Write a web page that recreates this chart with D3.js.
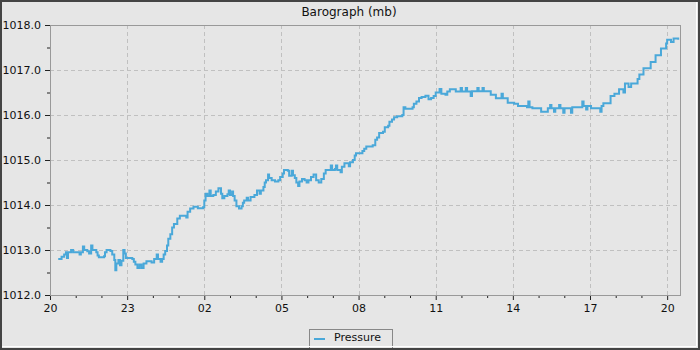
<!DOCTYPE html>
<html lang="en">
<head>
  <meta charset="UTF-8" />
  <title>Barograph (mb)</title>
  <script src="https://d3js.org/d3.v7.min.js"></script>
  <style>
    html, body {
      margin: 0;
      padding: 0;
      background: #e6e6e6;
      overflow: hidden;
    }
    svg {
      display: block;
      font-family: 'DejaVu Sans', sans-serif;
    }
  </style>
</head>
<body>
  <svg width="700" height="350"></svg>

  <script>
    // hours since 20:00 of the first day
    const hours = [
      0.32, 0.45, 0.55, 0.62, 0.66, 0.70, 0.82, 0.90, 1.15, 1.20, 1.28, 1.33, 1.45, 1.52, 1.60, 1.65,
      1.80, 1.85, 1.90, 2.10, 2.14, 2.20, 2.35, 2.42, 2.50, 2.54, 2.58, 2.66, 2.72, 2.78, 2.85, 2.90,
      2.95, 3.20, 3.26, 3.32, 3.40, 3.48, 3.56, 3.64, 3.75, 3.95, 4.05, 4.15, 4.20, 4.30, 4.36, 4.42,
      4.48, 4.55, 4.60, 4.68, 4.75, 4.82, 4.95, 5.05, 5.30, 5.35, 5.45, 5.58, 5.75, 5.95, 6.00, 6.05,
      6.12, 6.20, 6.25, 6.35, 6.45, 6.55, 6.65, 6.70, 6.78, 6.90, 6.95, 7.00, 7.08, 7.12, 7.18, 7.25,
      7.35, 7.45, 7.50, 7.55, 7.65, 7.70, 7.80, 7.95, 8.05, 8.15, 8.20, 8.30, 8.35, 8.40, 8.48, 8.52,
      8.62, 8.75, 8.88, 8.95, 9.05, 9.10, 9.25, 9.30, 9.40, 9.45, 9.52, 9.58, 9.65, 9.70, 9.80, 9.90,
      9.98, 10.05, 10.15, 10.25, 10.35, 10.45, 10.55, 10.65, 10.72, 10.92, 10.97, 11.08, 11.12, 11.17,
      11.30, 11.35, 11.45, 11.62, 11.67, 11.78, 11.85, 11.90, 12.15, 12.22, 12.30, 12.55, 12.65, 12.72,
      12.80, 12.95, 13.02, 13.15, 13.20, 13.30, 13.38, 13.50, 13.70, 13.75, 13.82, 14.10, 14.15, 14.25,
      14.35, 14.45, 14.60, 14.72, 14.82, 14.92, 15.00, 15.15, 15.22, 15.38, 15.45, 15.55, 15.78, 15.97,
      16.02, 16.17, 16.22, 16.36, 16.41, 16.62, 16.67, 16.82, 16.87, 17.14, 17.34, 17.56, 17.61, 17.80,
      18.05, 18.20, 18.40, 18.55, 18.60, 18.65, 18.76, 19.10, 19.36, 19.45, 19.50, 19.60, 19.65, 19.80,
      19.85, 19.96, 20.01, 20.26, 20.31, 20.70, 20.75, 20.85, 20.90, 21.04, 21.40, 21.45, 21.52, 21.80,
      21.95, 22.13, 22.30, 22.36, 22.50, 22.60, 22.85, 22.92, 23.08, 23.36, 23.55, 23.76, 23.96, 24.00,
      24.15, 24.25, 24.43
    ];

    const pressure = [
      1012.8, 1012.85, 1012.9, 1012.95, 1012.82, 1012.95, 1013.0, 1012.95, 1012.9, 1012.95, 1013.08, 1013.0, 1012.97, 1012.92, 1013.1, 1013.0,
      1012.95, 1012.88, 1012.84, 1012.86, 1012.95, 1013.0, 1012.98, 1012.9, 1012.78, 1012.55, 1012.7, 1012.78, 1012.66, 1012.76, 1013.0, 1012.92,
      1012.82, 1012.8, 1012.74, 1012.68, 1012.6, 1012.68, 1012.6, 1012.7, 1012.75, 1012.72, 1012.8, 1012.9, 1012.8, 1012.74, 1012.8, 1012.9,
      1012.98, 1013.1, 1013.25, 1013.35, 1013.5, 1013.58, 1013.7, 1013.76, 1013.72, 1013.85, 1013.92, 1013.96, 1013.93, 1013.95, 1014.1, 1014.25,
      1014.2, 1014.32, 1014.2, 1014.22, 1014.3, 1014.37, 1014.25, 1014.15, 1014.2, 1014.24, 1014.32, 1014.22, 1014.3, 1014.2, 1014.1, 1013.97,
      1013.92, 1013.97, 1014.05, 1014.1, 1014.16, 1014.1, 1014.18, 1014.22, 1014.32, 1014.25, 1014.32, 1014.4, 1014.5, 1014.55, 1014.68, 1014.6,
      1014.55, 1014.52, 1014.55, 1014.62, 1014.7, 1014.78, 1014.76, 1014.65, 1014.76, 1014.66, 1014.6, 1014.5, 1014.42, 1014.52, 1014.58, 1014.55,
      1014.5, 1014.55, 1014.62, 1014.68, 1014.55, 1014.5, 1014.58, 1014.7, 1014.78, 1014.88, 1014.78, 1014.8, 1014.88, 1014.78,
      1014.73, 1014.85, 1014.93, 1014.86, 1014.95, 1015.0, 1015.1, 1015.15, 1015.2, 1015.25, 1015.3, 1015.33, 1015.45, 1015.5,
      1015.6, 1015.63, 1015.73, 1015.76, 1015.85, 1015.9, 1015.95, 1015.97, 1016.0, 1016.17, 1016.14, 1016.17, 1016.25, 1016.3,
      1016.38, 1016.4, 1016.43, 1016.35, 1016.38, 1016.42, 1016.5, 1016.58, 1016.47, 1016.45, 1016.52, 1016.57, 1016.52, 1016.6,
      1016.52, 1016.6, 1016.52, 1016.42, 1016.53, 1016.6, 1016.53, 1016.6, 1016.53, 1016.45, 1016.37, 1016.47, 1016.37, 1016.27,
      1016.25, 1016.2, 1016.2, 1016.17, 1016.3, 1016.17, 1016.15, 1016.07, 1016.15, 1016.22, 1016.15, 1016.07, 1016.15, 1016.22,
      1016.15, 1016.05, 1016.15, 1016.05, 1016.17, 1016.3, 1016.2, 1016.12, 1016.2, 1016.15, 1016.07, 1016.2, 1016.26, 1016.42,
      1016.47, 1016.57, 1016.5, 1016.7, 1016.62, 1016.7, 1016.8, 1016.9, 1017.04, 1017.18, 1017.33, 1017.48, 1017.59, 1017.67,
      1017.62, 1017.7, 1017.67
    ];

    const yTicks = [1012, 1013, 1014, 1015, 1016, 1017, 1018];
    const title = "Barograph (mb)";
    const seriesName = "Pressure";

    const W = 700, H = 350;
    const margin = { left: 50, right: 20, top: 25, bottom: 55 };
    const lineColor = "#4aa8d9";

    const start = new Date(2024, 0, 1, 20, 0);
    const end = new Date(start.getTime() + 24.5 * 3600e3);
    const data = hours.map((h, i) => ({
      t: new Date(start.getTime() + h * 3600e3),
      p: pressure[i]
    }));

    const svg = d3.select("svg");

    svg.append("rect")
      .attr("width", W).attr("height", H)
      .attr("fill", "#e6e6e6");

    const x = d3.scaleTime()
      .domain([start, end])
      .range([margin.left, W - margin.right]);
    const y = d3.scaleLinear()
      .domain([1012, 1018])
      .range([H - margin.bottom, margin.top]);

    const allHours = d3.timeHour.range(start, end);
    const majorHours = allHours.filter((d, i) => i % 3 === 0);
    const minorHours = allHours.filter((d, i) => i % 3 !== 0);
    const halfTicks = d3.range(1012.5, 1018, 1);

    // grid
    const grid = svg.append("g")
      .attr("stroke", "#c0c0c0")
      .attr("stroke-dasharray", "4,3")
      .attr("shape-rendering", "crispEdges");
    grid.selectAll(".gx").data(majorHours.slice(1))
      .enter().append("line")
      .attr("x1", d => Math.round(x(d)) + 0.5).attr("x2", d => Math.round(x(d)) + 0.5)
      .attr("y1", y(1018)).attr("y2", y(1012));
    grid.selectAll(".gy").data(yTicks.slice(1, -1))
      .enter().append("line")
      .attr("x1", x(start)).attr("x2", x(end))
      .attr("y1", d => y(d) + 0.5).attr("y2", d => y(d) + 0.5);

    // axes
    const xAxis = svg.append("g")
      .attr("transform", `translate(0,${y(1012)})`)
      .call(d3.axisBottom(x).tickValues(majorHours).tickFormat(d3.timeFormat("%H")).tickSize(5).tickPadding(4));
    svg.append("g")
      .attr("transform", `translate(0,${y(1012)})`)
      .call(d3.axisBottom(x).tickValues(minorHours).tickFormat("").tickSize(3))
      .select(".domain").remove();

    const yAxis = svg.append("g")
      .attr("transform", `translate(${x(start)},0)`)
      .call(d3.axisLeft(y).tickValues(yTicks).tickFormat(d3.format(".1f")).tickSize(5).tickPadding(4));
    svg.append("g")
      .attr("transform", `translate(${x(start)},0)`)
      .call(d3.axisLeft(y).tickValues(halfTicks).tickFormat("").tickSize(3))
      .select(".domain").remove();

    svg.selectAll(".tick line").attr("stroke", "#222");
    svg.selectAll(".tick text")
      .attr("fill", "#111")
      .style("font-family", "'DejaVu Sans', sans-serif")
      .style("font-size", "11px");
    svg.selectAll(".domain").attr("stroke", "none");

    // plot frame
    svg.append("rect")
      .attr("x", x(start)).attr("y", y(1018) + 0.5)
      .attr("width", x(end) - x(start)).attr("height", y(1012) - y(1018))
      .attr("fill", "none")
      .attr("stroke", "#999")
      .attr("shape-rendering", "crispEdges");

    // series
    const line = d3.line()
      .x(d => x(d.t))
      .y(d => y(d.p))
      .curve(d3.curveStepAfter);

    svg.append("path")
      .datum(data)
      .attr("fill", "none")
      .attr("stroke", lineColor)
      .attr("stroke-width", 2)
      .attr("d", line);

    // title
    svg.append("text")
      .attr("x", 349).attr("y", 16)
      .attr("text-anchor", "middle")
      .attr("fill", "#111")
      .style("font-size", "12px")
      .text(title);

    // legend
    const legend = svg.append("g");
    legend.append("rect")
      .attr("x", 309.5).attr("y", 329.5)
      .attr("width", 83).attr("height", 22)
      .attr("fill", "#e6e6e6")
      .attr("stroke", "#888");
    legend.append("line")
      .attr("x1", 314).attr("x2", 325)
      .attr("y1", 339).attr("y2", 339)
      .attr("stroke", lineColor)
      .attr("stroke-width", 2);
    legend.append("text")
      .attr("x", 334).attr("y", 341)
      .attr("fill", "#111")
      .style("font-size", "11px")
      .text(seriesName);

    // outer border
    svg.append("rect")
      .attr("x", 1).attr("y", 1)
      .attr("width", W - 2).attr("height", H - 2)
      .attr("fill", "none")
      .attr("stroke", "#444")
      .attr("stroke-width", 2);
    svg.append("path")
      .attr("d", `M2,${H - 3.5}H${W - 3.5}V2`)
      .attr("fill", "none")
      .attr("stroke", "#fff")
      .attr("stroke-width", 1);
  </script>
</body>
</html>
